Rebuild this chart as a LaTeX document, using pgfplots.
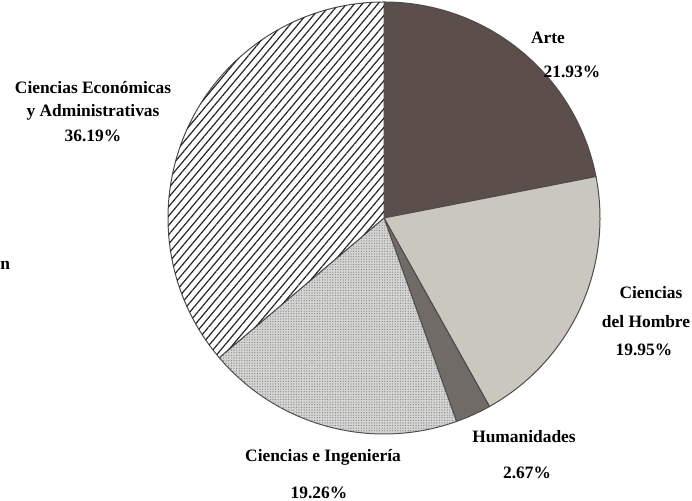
\documentclass[border=0pt]{standalone}
\usepackage{pgfplots}
\pgfplotsset{compat=1.18}
\usepackage{fontspec}
\setmainfont{Liberation Serif}
\usetikzlibrary{patterns.meta}

\definecolor{arteC}{RGB}{92,78,75}
\definecolor{hombreC}{RGB}{202,199,190}
\definecolor{humanC}{RGB}{112,107,102}
\definecolor{ingC}{RGB}{212,212,210}

\tikzset{
  slice/.style={draw=black!70, line width=0.5pt},
  arte/.style={slice, fill=arteC},
  hombre/.style={slice, fill=hombreC},
  human/.style={slice, fill=humanC},
  ing/.style={slice, fill=ingC, postaction={pattern={Dots[distance=1.3pt,radius=0.3pt]}, pattern color=black!50}},
  econ/.style={slice, fill=white, postaction={pattern={Lines[angle=50,distance=3pt,line width=0.6pt]}, pattern color=black!85}},
  lab/.style={font=\bfseries\fontsize{8.7}{10}\selectfont, text=black, inner sep=0pt},
}

\begin{document}
\begin{tikzpicture}
\begin{axis}[
    hide axis,
    x=0.5pt, y=0.5pt,
    xmin=0, xmax=692, ymin=0, ymax=501,
    clip=false,
  ]
  \path (axis cs:0,0) rectangle (axis cs:692,501);
  % shares in percent, clockwise from the top
  \def\cum{90}
  \foreach \p/\s in {21.93/arte, 19.95/hombre, 2.67/human, 19.26/ing, 36.19/econ} {
    \pgfmathsetmacro\a{\cum}
    \pgfmathsetmacro\b{\cum-3.6*\p}
    \edef\cmd{\noexpand\filldraw[\s] (axis cs:384,283) -- ++(\a:108pt)
      arc[start angle=\a, end angle=\b, radius=108pt] -- cycle;}
    \cmd
    \xdef\cum{\b}
  }

  \node[lab] at (axis cs:93,413) {Ciencias Económicas};
  \node[lab] at (axis cs:93,389) {y Administrativas};
  \node[lab] at (axis cs:93,365) {36.19\%};
  \node[lab] at (axis cs:548,463) {Arte};
  \node[lab] at (axis cs:572,429) {21.93\%};
  \node[lab] at (axis cs:651,208) {Ciencias};
  \node[lab] at (axis cs:646,179) {del Hombre};
  \node[lab] at (axis cs:644,151) {19.95\%};
  \node[lab] at (axis cs:524,64) {Humanidades};
  \node[lab] at (axis cs:527,28) {2.67\%};
  \node[lab] at (axis cs:323,44) {Ciencias e Ingeniería};
  \node[lab] at (axis cs:319,8) {19.26\%};
  \node[lab, anchor=west] at (axis cs:0,236) {n};
\end{axis}
\end{tikzpicture}
\end{document}
